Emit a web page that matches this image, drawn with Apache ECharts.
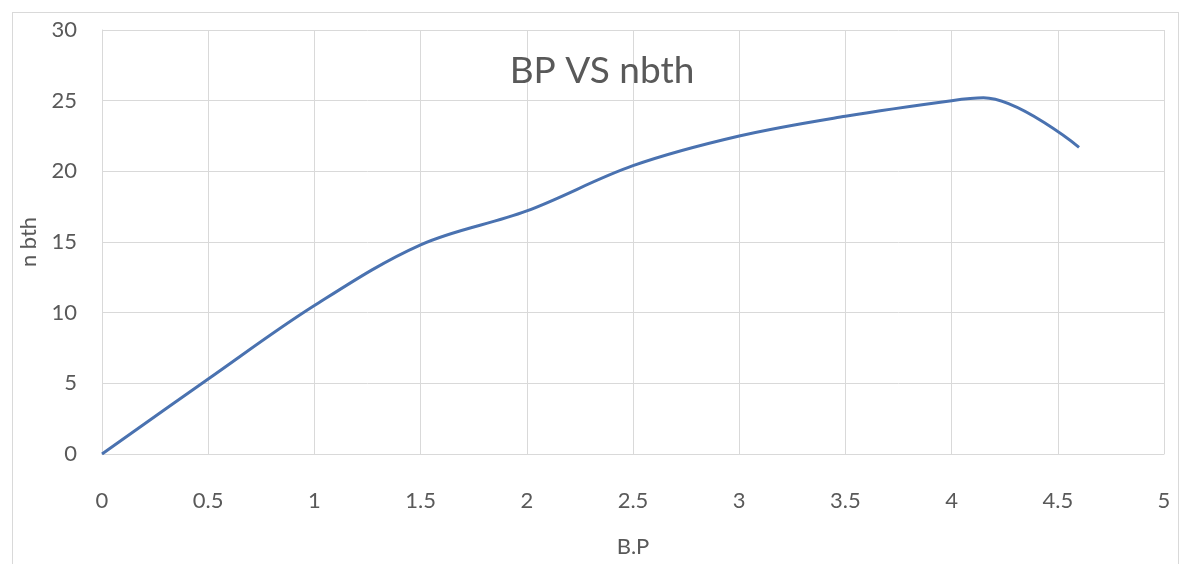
<!DOCTYPE html>
<html>
<head>
<meta charset="utf-8">
<script src="https://cdn.jsdelivr.net/npm/echarts@6/dist/echarts.min.js"></script>
<style>
html,body{margin:0;padding:0;background:#fff;}
#frame{position:absolute;left:12px;top:12px;width:1167px;height:560px;border:1px solid #d9d9d9;box-sizing:border-box;}
#chart{position:absolute;left:0;top:0;width:1182px;height:564px;}
</style>
</head>
<body>
<div id="frame"></div>
<div id="chart"></div>
<script>
var titleText = 'BP VS nbth';
var xName = 'B.P';
var yName = 'n bth';
var bp = [0, 0.5, 1, 1.5, 2, 2.5, 3, 3.5, 4, 4.15, 4.6];
var nbth = [0, 5.3, 10.5, 14.8, 17.2, 20.4, 22.5, 23.9, 25.0, 25.2, 21.7];

var pts = bp.map(function(x, i){ return [x, nbth[i]]; });
var font = 'Lato, "Open Sans", sans-serif';
var chart = echarts.init(document.getElementById('chart'));
chart.setOption({
  animation: false,
  backgroundColor: 'transparent',
  title: {
    text: titleText, left: 597, top: 48, textAlign: 'center',
    textStyle: {fontFamily: font, fontSize: 37, fontWeight: 'normal', color: '#595959'}
  },
  grid: {left: 102, right: 18, top: 30, bottom: 110, containLabel: false, outerBoundsMode: 'none'},
  xAxis: {
    type: 'value', min: 0, max: 5, interval: 0.5,
    name: xName, nameLocation: 'middle', nameGap: 82,
    nameTextStyle: {fontFamily: font, fontSize: 22, color: '#595959'},
    axisLine: {show: true, lineStyle: {color: '#d9d9d9'}},
    axisTick: {show: false},
    axisLabel: {fontFamily: font, fontSize: 22, color: '#595959', margin: 36},
    splitLine: {show: true, lineStyle: {color: '#d9d9d9'}}
  },
  yAxis: {
    type: 'value', min: 0, max: 30, interval: 5,
    name: yName, nameLocation: 'middle', nameGap: 62, nameRotate: 90,
    nameTextStyle: {fontFamily: font, fontSize: 22, color: '#595959'},
    axisLine: {show: true, lineStyle: {color: '#d9d9d9'}},
    axisTick: {show: false},
    axisLabel: {fontFamily: font, fontSize: 22, color: '#595959', margin: 25},
    splitLine: {show: true, lineStyle: {color: '#d9d9d9'}}
  },
  series: [{
    type: 'line', data: pts, smooth: 0.35, showSymbol: false,
    lineStyle: {color: '#4a72b0', width: 3}
  }]
});
</script>
</body>
</html>
